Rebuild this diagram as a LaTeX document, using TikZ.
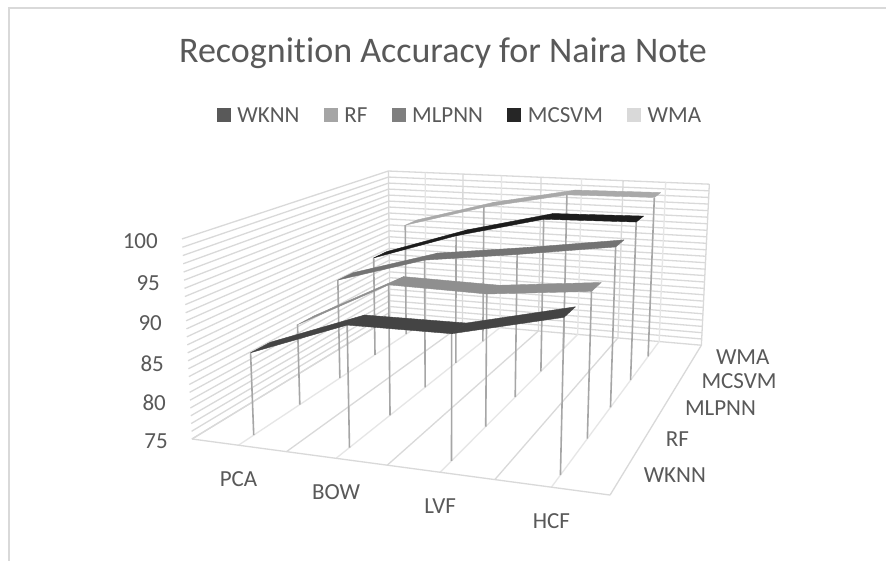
\documentclass[tikz,border=0pt]{standalone}
\usepackage{fontspec}
\setmainfont{Carlito}[Ligatures=NoCommon]
\usetikzlibrary{positioning}

\definecolor{txt}{HTML}{595959}
\definecolor{gridc}{HTML}{D9D9D9}
\definecolor{gridlight}{HTML}{E6E6E6}
\definecolor{dropc}{HTML}{A6A6A6}
% legend swatches
\definecolor{lWKNN}{HTML}{595959}
\definecolor{lRF}{HTML}{A5A5A5}
\definecolor{lMLPNN}{HTML}{7F7F7F}
\definecolor{lMCSVM}{HTML}{262626}
\definecolor{lWMA}{HTML}{D9D9D9}
% shaded ribbon tops
\definecolor{rWKNN}{HTML}{444444}
\definecolor{rRF}{HTML}{8F8F8F}
\definecolor{rMLPNN}{HTML}{737373}
\definecolor{rMCSVM}{HTML}{1C1C1C}
\definecolor{rWMA}{HTML}{A9A9A9}

% perspective projection of the chart box:
% c = category position (0..4), s = series depth (0..5), val = value (75..100)
\makeatletter
\tikzdeclarecoordinatesystem{chart}{%
  \pgfkeys{/chart/.cd,c=0,s=0,val=75,#1}%
  \pgfmathsetmacro\chart@u{(\chart@c)/4}%
  \pgfmathsetmacro\chart@v{(\chart@s)/5}%
  \pgfmathsetmacro\chart@w{((\chart@val)-75)/25}%
  \pgfmathsetmacro\chart@H{1-0.1235*\chart@u+0.3786*\chart@v-0.0379*\chart@w}%
  \pgfmathsetmacro\chart@X{(192+342.7*\chart@u+345.6*\chart@v-16.9*\chart@w)/\chart@H}%
  \pgfmathsetmacro\chart@Y{561-(439-5.1*\chart@u-0.6*\chart@v-209.1*\chart@w)/\chart@H}%
  \pgf@x=\chart@X pt\relax
  \pgf@y=\chart@Y pt\relax
}
\pgfkeys{/chart/.cd,
  c/.store in=\chart@c, s/.store in=\chart@s, val/.store in=\chart@val}
\makeatother

\tikzset{
  frameline/.style={draw=gridc, line width=2pt},
  gridline/.style={draw=gridc, line width=1.3pt},
  gridhalf/.style={draw=gridlight, line width=1.3pt},
  dropline/.style={draw=dropc, line width=1.6pt},
  ribbonface/.style={fill=#1, draw=#1, line width=0.4pt, line join=round},
  titletext/.style={font=\fontsize{36}{43}\selectfont, text=txt, inner sep=0pt},
  legtext/.style={font=\fontsize{23}{27}\selectfont, text=txt, inner sep=0pt},
  legbox/.style={minimum size=14pt, inner sep=0pt, fill=#1},
  ticklabel/.style={font=\fontsize{23}{27}\selectfont, text=txt, inner sep=0pt},
}

% drop lines and ribbon of one series: depth index, colour, four values
\newcommand\drawribbon[6]{%
  \foreach \cc/\vv in {0.5/#3,1.5/#4,2.5/#5,3.5/#6}
    \draw[dropline] (chart cs:c=\cc,s=#1+0.3,val=\vv) -- (chart cs:c=\cc,s=#1+0.3,val=75);
  \path[ribbonface=#2] (chart cs:c=0.5,s=#1+0.3,val=#3) -- (chart cs:c=1.5,s=#1+0.3,val=#4)
     -- (chart cs:c=1.5,s=#1+0.7,val=#4) -- (chart cs:c=0.5,s=#1+0.7,val=#3) -- cycle;
  \path[ribbonface=#2] (chart cs:c=1.5,s=#1+0.3,val=#4) -- (chart cs:c=2.5,s=#1+0.3,val=#5)
     -- (chart cs:c=2.5,s=#1+0.7,val=#5) -- (chart cs:c=1.5,s=#1+0.7,val=#4) -- cycle;
  \path[ribbonface=#2] (chart cs:c=2.5,s=#1+0.3,val=#5) -- (chart cs:c=3.5,s=#1+0.3,val=#6)
     -- (chart cs:c=3.5,s=#1+0.7,val=#6) -- (chart cs:c=2.5,s=#1+0.7,val=#5) -- cycle;
}

\begin{document}
\begin{tikzpicture}[x=1pt,y=1pt]
\useasboundingbox (0,0) rectangle (886,561);
\clip (0,0) rectangle (886,561);
\fill[white] (0,0) rectangle (886,561);

% chart area border
\draw[frameline] (9,-10) -- (9,553) -- (900,553);

% title and legend
\node[titletext, anchor=base] (title) at (443,498) {Recognition Accuracy for Naira Note};

\node[legbox=lWKNN] (kWKNN) at (224,446) {};
\node[legtext, right=6pt of kWKNN] (tWKNN) {WKNN};
\node[legbox=lRF, right=24pt of tWKNN] (kRF) {};
\node[legtext, right=6pt of kRF] (tRF) {RF};
\node[legbox=lMLPNN, right=24pt of tRF] (kMLPNN) {};
\node[legtext, right=6pt of kMLPNN] (tMLPNN) {MLPNN};
\node[legbox=lMCSVM, right=24pt of tMLPNN] (kMCSVM) {};
\node[legtext, right=6pt of kMCSVM] (tMCSVM) {MCSVM};
\node[legbox=lWMA, right=24pt of tMCSVM] (kWMA) {};
\node[legtext, right=6pt of kWMA] (tWMA) {WMA};

% walls and floor: value gridlines on the side and back walls
\foreach \k in {0,...,25} {
  \pgfmathsetmacro\gv{75+\k}
  \draw[gridline] (chart cs:c=0,s=0,val=\gv) -- (chart cs:c=0,s=5,val=\gv)
      -- (chart cs:c=4,s=5,val=\gv);
}
% category lines on the floor and the back wall
\foreach \k in {1,3,5,7} {
  \pgfmathsetmacro\gc{\k/2}
  \draw[gridhalf] (chart cs:c=\gc,s=0,val=75) -- (chart cs:c=\gc,s=5,val=75)
      -- (chart cs:c=\gc,s=5,val=100);
}
\foreach \k in {0,2,4,6,8} {
  \pgfmathsetmacro\gc{\k/2}
  \draw[gridline] (chart cs:c=\gc,s=0,val=75) -- (chart cs:c=\gc,s=5,val=75)
      -- (chart cs:c=\gc,s=5,val=100);
}
\draw[gridline] (chart cs:c=0,s=0,val=75) -- (chart cs:c=4,s=0,val=75);

% series, back to front
\drawribbon{4}{rWMA}{92.8}{96.3}{98.8}{99.0}
\drawribbon{3}{rMCSVM}{90.0}{94.1}{97.2}{97.5}
\drawribbon{2}{rMLPNN}{89.3}{93.0}{94.6}{96.4}
\drawribbon{1}{rRF}{86.0}{92.3}{92.1}{93.4}
\drawribbon{0}{rWKNN}{85.6}{90.2}{90.3}{93.3}

% value axis labels
\foreach \v in {75,80,85,90,95,100}
  \node[ticklabel, anchor=east, xshift=-24pt, yshift=-2.5pt] (val\v) at (chart cs:c=0,s=0,val=\v) {\v};

% category axis labels
\foreach \n/\cc in {PCA/0.5,BOW/1.5,LVF/2.5,HCF/3.5}
  \node[ticklabel, yshift=-34pt] (cat\n) at (chart cs:c=\cc,s=0,val=75) {\n};

% series axis labels
\foreach \n/\ss in {WKNN/0.5,RF/1.5,MLPNN/2.5,MCSVM/3.5,WMA/4.5}
  \node[ticklabel, anchor=west, xshift=21pt, yshift=-1pt] (ser\n) at (chart cs:c=4,s=\ss,val=75) {\n};
\end{tikzpicture}
\end{document}
